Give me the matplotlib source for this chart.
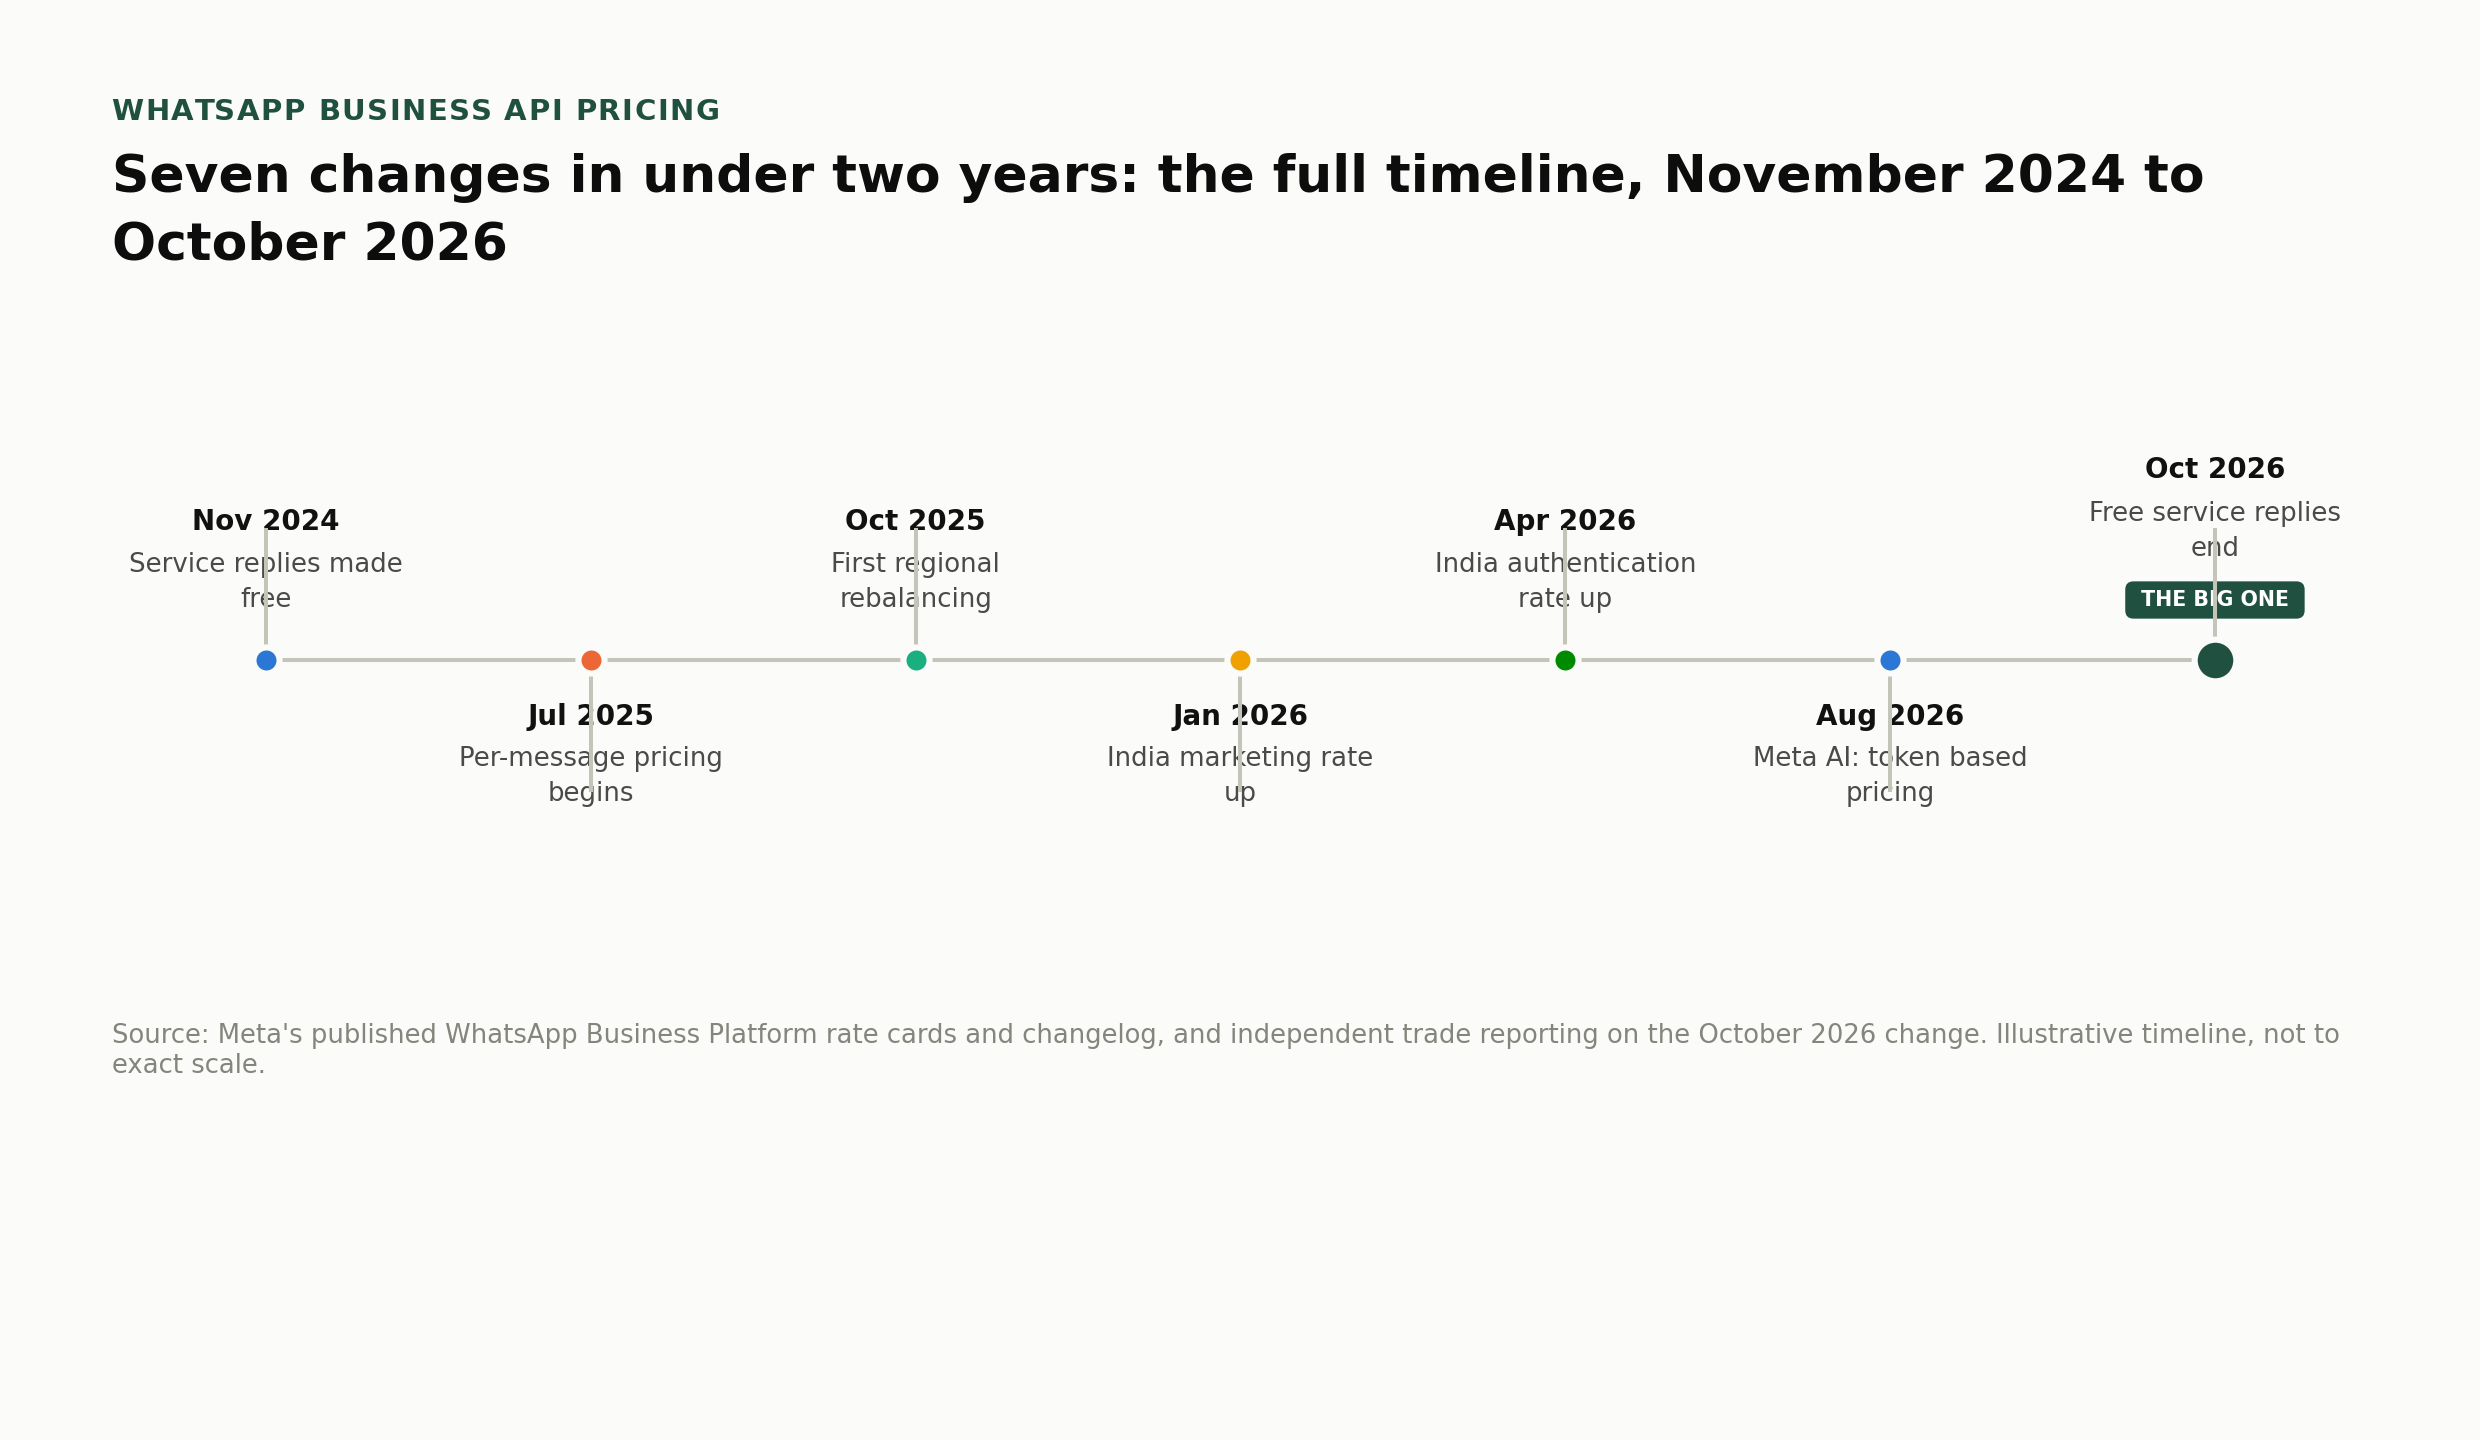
import matplotlib.pyplot as plt

# timeline events, left to right (evenly spaced, not to scale)
dates = ["Nov 2024", "Jul 2025", "Oct 2025", "Jan 2026", "Apr 2026", "Aug 2026", "Oct 2026"]
descs = [
    "Service replies made\nfree",
    "Per-message pricing\nbegins",
    "First regional\nrebalancing",
    "India marketing rate\nup",
    "India authentication\nrate up",
    "Meta AI: token based\npricing",
    "Free service replies\nend",
]
dot_colors = ["#2a77d6", "#ec6735", "#1aaf7e", "#f0a100", "#008a00", "#2a77d6", "#1f5040"]
above = [True, False, True, False, True, False, True]
big_one = 6

BG = "#fbfbf9"
LINE = "#c4c4b8"
DARK = "#1f5040"
W_PX = 2480


def tracked_text(fig, x, y, s, track_px, **kw):
    # matplotlib has no letter-spacing, so place the characters one by one
    renderer = fig.canvas.get_renderer()

    def width(t):
        tmp = fig.text(0, 0, t + "|", **kw)
        bar = fig.text(0, 0, "|", **kw)
        w = tmp.get_window_extent(renderer).width - bar.get_window_extent(renderer).width
        tmp.remove()
        bar.remove()
        return w

    for k, ch in enumerate(s):
        if ch == " ":
            continue
        off = width(s[:k]) if k else 0.0
        fig.text(x + (off + k * track_px) / W_PX, y, ch, ha="left", **kw)


def main():
    fig = plt.figure(figsize=(12.4, 7.2), dpi=200, facecolor=BG)
    # axes covers the whole figure; y is in pixels above/below the timeline
    ax = fig.add_axes([0, 0, 1, 1])
    ax.set_facecolor(BG)
    ax.set_xlim(-0.819, 6.816)
    ax.set_ylim(-780, 660)
    ax.axis("off")

    xs = list(range(len(dates)))
    ax.plot([xs[0], xs[-1]], [0, 0], color=LINE, lw=1.45, zorder=2, solid_capstyle="butt")

    desc_kw = dict(ha="center", va="center", fontsize=9.35, color="#4a4a48",
                   zorder=3, linespacing=1.45)
    date_kw = dict(ha="center", va="center", fontsize=10, fontweight="bold",
                   color="#111111", zorder=3)

    for i, (d, txt, c, up) in enumerate(zip(dates, descs, dot_colors, above)):
        sign = 1 if up else -1
        ax.plot([i, i], [0, sign * 130], color=LINE, lw=1.45, zorder=4)
        if i == big_one:
            ax.plot(i, 0, "o", ms=15.0, mfc=c, mec=BG, mew=2.2, zorder=5)
            ax.text(i, 190, d, **date_kw)
            ax.text(i, 128, txt, **desc_kw)
            ax.text(i, 60, " THE BIG ONE ", ha="center", va="center", fontsize=7.4,
                    fontweight="bold", color="white", zorder=3,
                    bbox=dict(boxstyle="round,pad=0.42,rounding_size=0.4",
                              fc=DARK, ec="none"))
        else:
            ax.plot(i, 0, "o", ms=9.4, mfc=c, mec=BG, mew=2.2, zorder=5)
            if up:
                ax.text(i, 138, d, **date_kw)
                ax.text(i, 77, txt, **desc_kw)
            else:
                ax.text(i, -57, d, **date_kw)
                ax.text(i, -117, txt, **desc_kw)

    tracked_text(fig, 0.045, 1 - 112 / 1440, "WHATSAPP BUSINESS API PRICING", 1.5,
                 va="center", fontsize=10.5, fontweight="bold", color=DARK)
    fig.text(0.045, 1 - 153 / 1440,
             "Seven changes in under two years: the full timeline, November 2024 to\n"
             "October 2026",
             ha="left", va="top", fontsize=18.7, fontweight="bold", color="#0d0d0d",
             linespacing=1.45)
    fig.text(0.045, 1 - 1051 / 1440,
             "Source: Meta's published WhatsApp Business Platform rate cards and changelog, "
             "and independent trade reporting on the October 2026 change. Illustrative timeline, not to\n"
             "exact scale.",
             ha="left", va="center", fontsize=9.3, color="#85857d", linespacing=1.2)

    fig.savefig("out.png", dpi=200, facecolor=BG)
    plt.close(fig)


if __name__ == "__main__":
    main()
